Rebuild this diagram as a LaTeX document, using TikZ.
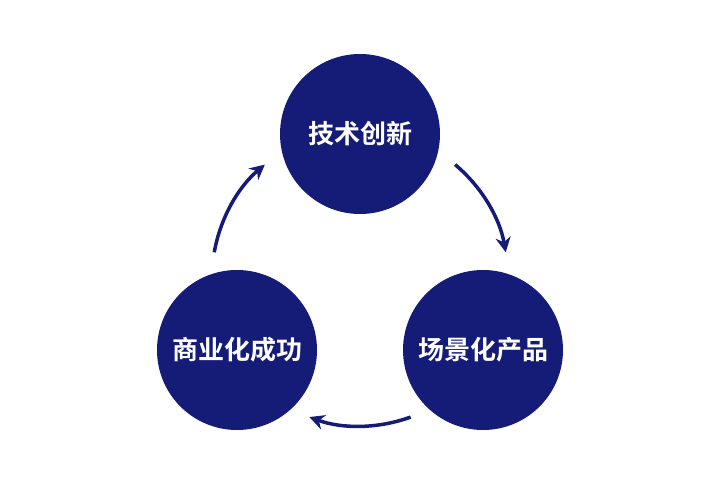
\documentclass[tikz,border=0pt]{standalone}
\usepackage{fontspec}
\newfontfamily\cjk{Noto Sans CJK SC}[BoldFont={Noto Sans CJK SC Bold}]
\usetikzlibrary{arrows.meta}
\definecolor{navy}{HTML}{141C78}
\begin{document}
\begin{tikzpicture}[x=1pt,y=-1pt,
  ball/.style={circle,fill=navy,minimum size=160pt,inner sep=0pt,text=white,font=\cjk\bfseries\fontsize{26}{30}\selectfont},
  cyc/.style={draw=navy,line width=3.5pt,-{Stealth[length=15pt,width=15pt]}}]
\useasboundingbox (0,0) rectangle (720,481);
\node[ball] (a) at (360,134) {技术创新};
\node[ball] (b) at (483,350) {场景化产品};
\node[ball] (c) at (237,350) {商业化成功};
\coordinate (o) at (360,278);
\draw[cyc] ([shift={(50:148 and -148)}]o) arc[start angle=50,end angle=10,x radius=148,y radius=-148];
\draw[cyc] ([shift={(-70:148 and -148)}]o) arc[start angle=-70,end angle=-110,x radius=148,y radius=-148];
\draw[cyc] ([shift={(170:148 and -148)}]o) arc[start angle=170,end angle=130,x radius=148,y radius=-148];
\end{tikzpicture}
\end{document}
